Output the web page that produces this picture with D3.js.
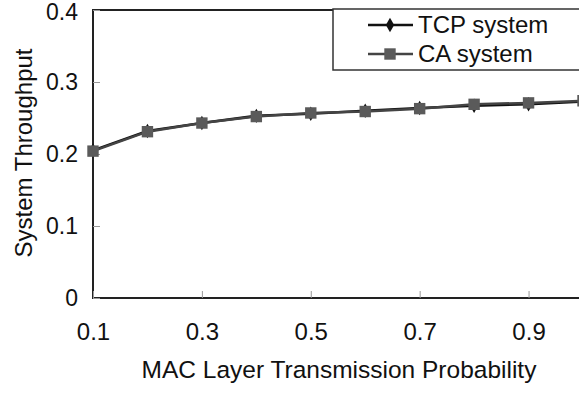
<!DOCTYPE html>
<html>
<head>
<meta charset="utf-8">
<script src="https://cdn.jsdelivr.net/npm/d3@7"></script>
<style>
  html, body { margin: 0; padding: 0; background: #fff; }
  svg { display: block; font-family: "Liberation Sans", Arial, sans-serif; }
</style>
</head>
<body>
<svg id="chart" width="579" height="393"></svg>
<script>
// Transmission probabilities on the x axis
const probabilities = [0.1, 0.2, 0.3, 0.4, 0.5, 0.6, 0.7, 0.8, 0.9, 1.0];
// Throughput of each system
const tcpThroughput = [0.205, 0.232, 0.243, 0.253, 0.256, 0.260, 0.264, 0.267, 0.269, 0.273];
const caThroughput  = [0.204, 0.231, 0.243, 0.252, 0.257, 0.259, 0.263, 0.269, 0.271, 0.274];
// Tick labels
const xTicks = [0.1, 0.3, 0.5, 0.7, 0.9];
const yTicks = [0, 0.1, 0.2, 0.3, 0.4];
const seriesNames = ["TCP system", "CA system"];

const svg = d3.select("#chart");
const x = d3.scaleLinear().domain([0.1, 1.0]).range([93, 583]);
const y = d3.scaleLinear().domain([0, 0.4]).range([298, 10]);

const fontFamily = "Liberation Sans, Arial, sans-serif";

// Plot frame (left, bottom, top edges; right side runs past the canvas)
const frame = svg.append("g").attr("stroke", "#222").attr("stroke-width", 2).attr("fill", "none");
frame.append("path").attr("d", `M${x(1.0)},${y(0.4)}H${x(0.1)}V${y(0)}H${x(1.0)}`);

// Y axis
const yAxis = svg.append("g").attr("transform", `translate(${x(0.1)},0)`)
  .call(d3.axisLeft(y).tickValues(yTicks).tickSizeInner(-7).tickSizeOuter(0)
    .tickPadding(15).tickFormat(d => d === 0 ? "0" : d3.format(".1f")(d)));
yAxis.select(".domain").remove();
yAxis.selectAll(".tick line").attr("stroke", "#999").attr("stroke-width", 1);
yAxis.selectAll(".tick text").attr("font-size", 23).attr("fill", "#111")
  .attr("font-family", fontFamily);
// keep the top label inside the canvas
yAxis.selectAll(".tick text").filter(d => d === 0.4).attr("dy", "0.42em");

// X axis
const xAxis = svg.append("g").attr("transform", `translate(0,${y(0)})`)
  .call(d3.axisBottom(x).tickValues(xTicks).tickSizeInner(-7).tickSizeOuter(0)
    .tickPadding(25).tickFormat(d3.format(".1f")));
xAxis.select(".domain").remove();
xAxis.selectAll(".tick line").attr("stroke", "#999").attr("stroke-width", 1);
xAxis.selectAll(".tick text").attr("font-size", 24).attr("fill", "#111")
  .attr("font-family", fontFamily);

// Axis titles
svg.append("text").attr("x", 339).attr("y", 378).attr("text-anchor", "middle")
  .attr("font-size", 24.5).attr("fill", "#111").text("MAC Layer Transmission Probability");
svg.append("text").attr("transform", "translate(32,153) rotate(-90)").attr("text-anchor", "middle")
  .attr("font-size", 24).attr("fill", "#111").text("System Throughput");

// Series lines and markers
const tcpData = probabilities.map((p, i) => ({ p, v: tcpThroughput[i] }));
const caData = probabilities.map((p, i) => ({ p, v: caThroughput[i] }));
const line = d3.line().x(d => x(d.p)).y(d => y(d.v));

const diamond = d3.symbol().type(d3.symbolDiamond).size(60);
const square = d3.symbol().type(d3.symbolSquare).size(130);

svg.append("path").datum(tcpData).attr("d", line)
  .attr("fill", "none").attr("stroke", "#111").attr("stroke-width", 2.5);
svg.append("path").datum(caData).attr("d", line)
  .attr("fill", "none").attr("stroke", "#444").attr("stroke-width", 2.5);

svg.append("g").selectAll("path").data(tcpData).join("path")
  .attr("transform", d => `translate(${x(d.p)},${y(d.v)})`)
  .attr("d", diamond).attr("fill", "#111");
svg.append("g").selectAll("path").data(caData).join("path")
  .attr("transform", d => `translate(${x(d.p)},${y(d.v)})`)
  .attr("d", square).attr("fill", "#5a5a5a");

// Legend
const legend = svg.append("g");
legend.append("rect").attr("x", 333).attr("y", 9).attr("width", 260).attr("height", 61)
  .attr("fill", "#fff").attr("stroke", "#333").attr("stroke-width", 1.5);
const rows = [
  { name: seriesNames[0], color: "#111", sym: diamond, fill: "#111", cy: 25 },
  { name: seriesNames[1], color: "#444", sym: square, fill: "#5a5a5a", cy: 54 }
];
rows.forEach(r => {
  legend.append("line").attr("x1", 368).attr("x2", 413).attr("y1", r.cy).attr("y2", r.cy)
    .attr("stroke", r.color).attr("stroke-width", 2.5);
  legend.append("path").attr("transform", `translate(390,${r.cy})`).attr("d", r.sym).attr("fill", r.fill);
  legend.append("text").attr("x", 418).attr("y", r.cy + 8).attr("font-size", 24)
    .attr("font-family", fontFamily).attr("fill", "#111").text(r.name);
});
</script>
</body>
</html>
